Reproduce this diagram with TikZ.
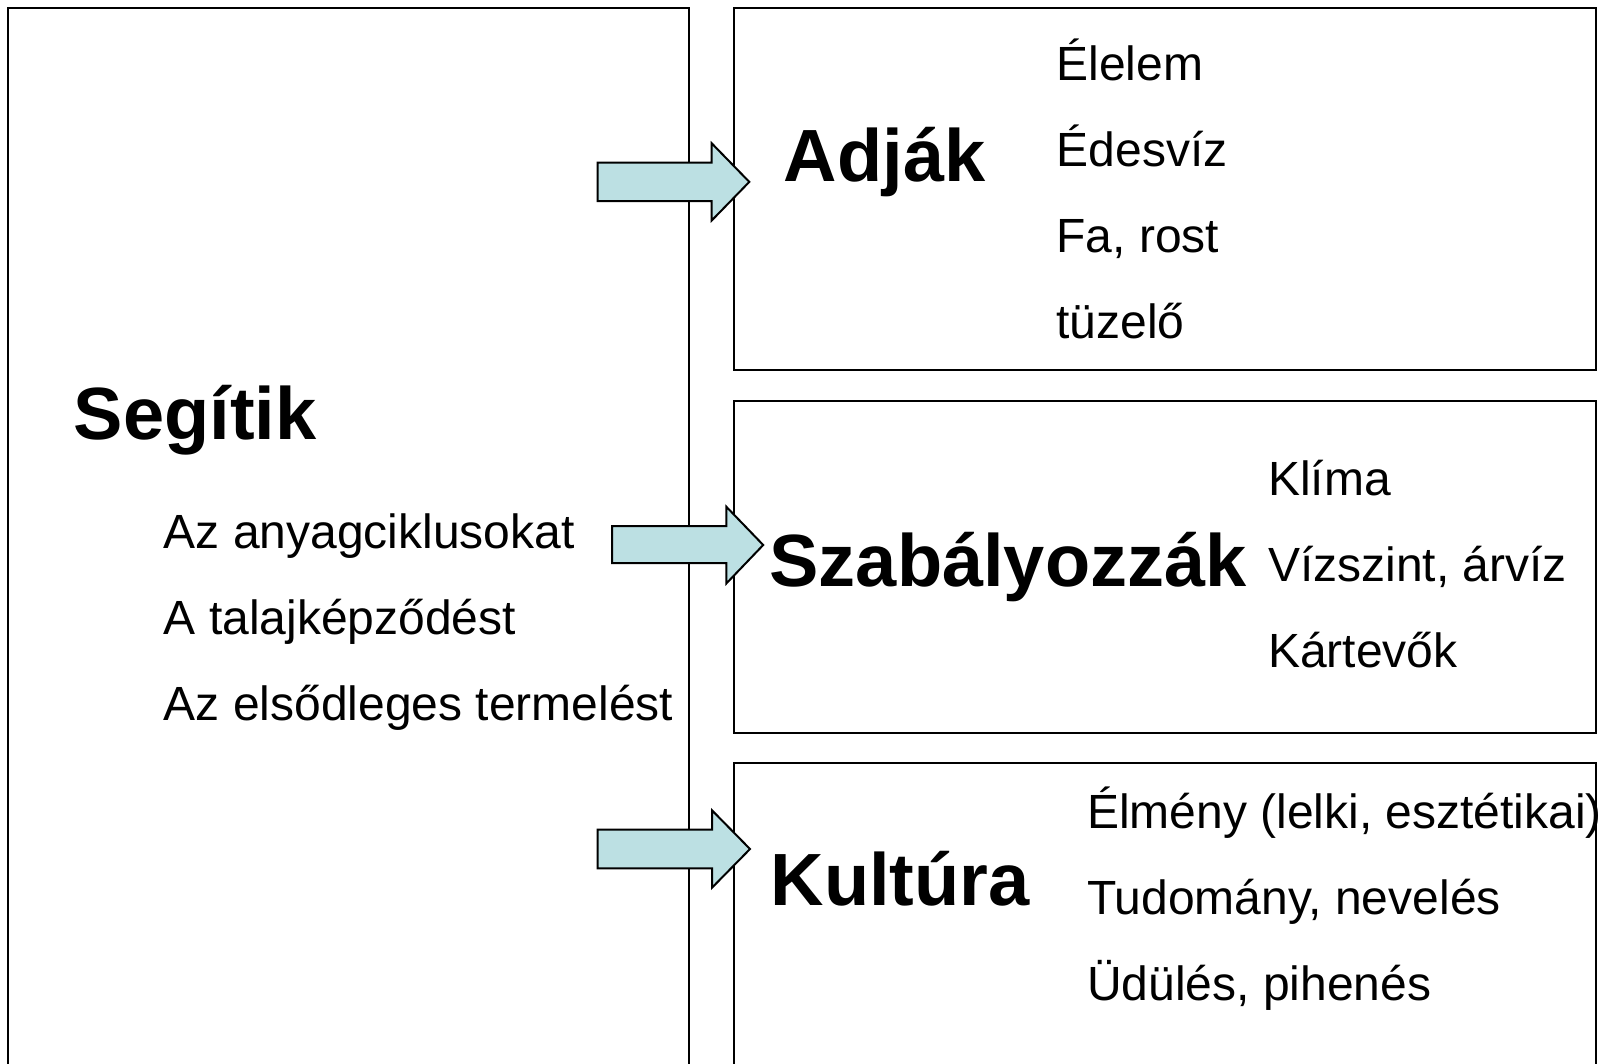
\documentclass[tikz,border=0pt]{standalone}
\usepackage{fontspec}
\setmainfont{Liberation Sans}
\definecolor{arrowfill}{HTML}{BCE0E3}
\begin{document}
\begin{tikzpicture}[x=1pt,y=-1pt,
  frame/.style={draw=black,line width=2pt},
  blockarrow/.style={draw=black,line width=2pt,fill=arrowfill,line join=miter},
  item/.style={anchor=base west,inner sep=0pt,font=\fontsize{48}{58}\selectfont},
  heading/.style={anchor=base west,inner sep=0pt,font=\fontsize{74}{88}\selectfont\bfseries}]
\useasboundingbox (0,0) rectangle (1602,1063);
\clip (0,0) rectangle (1602,1063);
% frames
\draw[frame] (8.2,1080) -- (8.2,8.2) -- (688.6,8.2) -- (688.6,1080);
\draw[frame] (733.6,8.2) rectangle (1595.9,369.9);
\draw[frame] (733.6,400.5) rectangle (1595.9,732.6);
\draw[frame] (733.6,1080) -- (733.6,763.2) -- (1595.9,763.2) -- (1595.9,1080);
% arrows
\draw[blockarrow] (597.7,162.7) -- (711.7,162.7) -- (711.7,143.3) -- (749.3,181.9)
  -- (711.7,220.5) -- (711.7,201.1) -- (597.7,201.1) -- cycle;
\draw[blockarrow] (612,526) -- (726.4,526) -- (726.4,506.8) -- (763.2,545)
  -- (726.4,583.4) -- (726.4,563.2) -- (612,563.2) -- cycle;
\draw[blockarrow] (597.7,829.6) -- (712.1,829.6) -- (712.1,810.4) -- (750,849)
  -- (712.1,887.6) -- (712.1,868.4) -- (597.7,868.4) -- cycle;
% left column
\node[heading] (seg) at (73.6,439.3) {Segítik};
\node[item] (l1) at (163.5,548.7) {Az anyagciklusokat};
\node[item] (l2) at (163.5,634.5) {A talajképződést};
\node[item] (l3) at (163.5,720.3) {Az elsődleges termelést};
% box A
\node[heading] (adjak) at (783.6,181.9) {Adják};
\node[item] (a1) at (1056.4,80.7) {Élelem};
\node[item] (a2) at (1056.4,166.5) {Édesvíz};
\node[item] (a3) at (1056.4,252.4) {Fa, rost};
\node[item] (a4) at (1056.4,338.2) {tüzelő};
% box B
\node[heading] (szab) at (769.3,586.5) {Szabályozzák};
\node[item] (b1) at (1268,495.5) {Klíma};
\node[item] (b2) at (1268,581.3) {Vízszint, árvíz};
\node[item] (b3) at (1268,667.2) {Kártevők};
% box C
\node[heading] (kult) at (770.4,905.2) {Kultúra};
\node[item] (c1) at (1087,828.6) {Élmény (lelki, esztétikai)};
\node[item] (c2) at (1087,914.4) {Tudomány, nevelés};
\node[item] (c3) at (1087,1000.2) {Üdülés, pihenés};
\end{tikzpicture}
\end{document}
